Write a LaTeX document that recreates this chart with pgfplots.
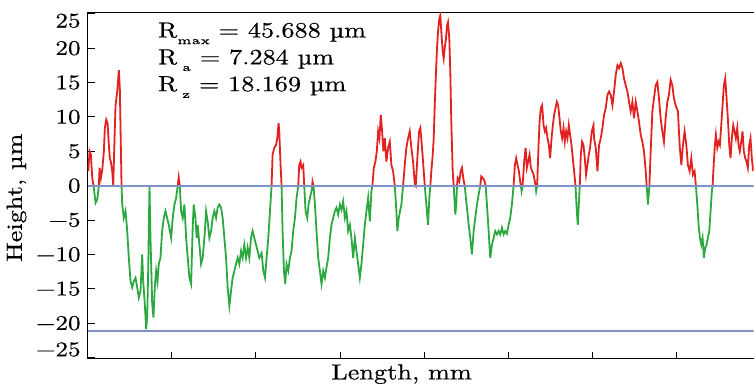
\documentclass[border=0pt]{standalone}
\usepackage{fontspec}
\setmainfont{Latin Modern Roman}[FakeStretch=1.2, FakeBold=0.5]
\usepackage{pgfplots}
\pgfplotsset{compat=1.18}
\usepackage{pgfplotstable}
\definecolor{profred}{RGB}{226,34,32}
\definecolor{profgreen}{RGB}{44,168,64}
\definecolor{reflblue}{RGB}{128,146,200}
\newcommand\sub[1]{\raisebox{-3.3bp}{\fontsize{5.5}{6}\selectfont #1}}
\pgfplotstableread{
x y
87.7 2.1
89.0 5.0
90.3 4.5
91.7 1.1
93.0 0
95.0 -2.5
96.7 -2.0
98.3 0
99.0 2.6
100.3 1.1
101.7 2.3
103.3 5.0
104.3 8.4
105.7 9.6
107.0 9.1
108.3 5.9
109.3 4.0
110.3 3.5
111.7 2.1
112.7 0
114.0 6.9
115.0 11.7
116.7 13.7
118.3 16.8
119.3 14.2
120.3 5.9
121.0 0
121.7 -2.75
123.3 -4.7
125.0 -3.7
126.7 -6.6
128.3 -10.5
130.0 -13.9
131.7 -14.8
133.3 -13.9
135.0 -13.4
136.7 -14.8
138.3 -16.3
140.0 -15.3
141.7 -10.0
142.7 -13.9
144.3 -17.2
145.7 -20.9
146.7 -19.0
147.7 -12.4
149.0 0
150.0 -7.6
151.7 -17.2
153.0 -19.2
154.3 -14.8
155.7 -12.4
157.0 -13.9
158.3 -11.4
160.0 -10.5
161.7 -6.6
163.3 -4.7
165.0 -3.7
166.7 -4.7
168.3 -5.7
170.7 -7.6
172.3 -4.7
174.0 -2.75
175.7 -1.8
177.3 0
178.3 1.2
179.3 0
180.7 -3.7
182.3 -4.7
184.0 -2.75
185.7 -7.6
187.3 -10.5
189.0 -13.4
190.7 -14.3
192.3 -6.0
193.3 -2.75
195.0 -4.7
196.3 -7.6
197.3 -5.7
199.0 -8.6
200.7 -11.4
202.3 -10.5
204.0 -7.6
205.7 -3.7
207.3 -5.2
209.0 -7.6
210.7 -6.6
212.3 -4.7
214.0 -3.7
215.7 -4.7
217.3 -3.2
219.0 -2.75
220.7 -3.2
222.3 -4.7
224.0 -7.6
225.7 -10.5
227.3 -14.8
229.0 -17.5
230.7 -15.3
232.3 -13.4
234.0 -12.4
235.7 -11.4
237.3 -10.5
239.0 -11.4
240.7 -9.5
242.3 -10.5
244.0 -8.6
245.7 -10.5
247.3 -9.0
249.0 -10.5
250.7 -7.6
252.3 -6.6
254.0 -7.6
255.7 -8.6
257.3 -9.5
259.0 -10.5
261.3 -9.8
263.0 -12.4
264.7 -13.4
266.3 -10.5
268.0 -7.6
269.7 -3.7
271.3 0
272.3 4.5
274.0 5.5
275.7 5.9
277.0 6.9
278.3 9.1
279.0 7.9
280.3 3.0
281.3 0
282.3 -6.6
283.7 -12.4
285.0 -14.3
286.3 -11.4
288.0 -12.4
289.7 -10.5
291.3 -9.5
293.0 -6.6
294.7 -4.7
296.3 -1.8
298.0 0
299.0 3.0
300.3 3.5
301.3 2.6
303.0 3.0
304.0 0
305.3 -3.7
307.0 -4.7
308.3 -2.75
309.7 -1.8
311.3 -0.8
312.0 0
312.3 0.6
313.3 0
314.7 -2.75
316.3 -6.6
318.0 -10.5
319.7 -12.4
321.3 -14.3
323.0 -12.4
324.7 -13.4
326.3 -11.9
328.0 -10.5
329.7 -7.6
331.3 -5.7
333.0 -4.7
334.7 -3.7
336.3 -3.2
338.0 -4.2
339.7 -2.75
341.3 -3.5
343.0 -2.3
344.7 -4.7
346.3 -3.7
348.0 -6.6
349.7 -5.7
351.3 -7.6
353.0 -10.5
354.7 -7.6
356.3 -9.5
358.0 -11.4
359.7 -13.4
361.3 -11.4
363.0 -8.6
364.7 -5.7
366.3 -3.7
368.0 -1.8
369.7 -5.2
371.3 -0.8
372.3 0
373.7 2.6
375.3 3.5
376.7 5.0
378.0 7.9
379.3 6.9
380.7 10.3
382.0 7.9
383.3 5.0
384.7 6.9
386.3 3.5
388.0 5.5
389.7 6.4
391.3 3.0
393.0 2.1
394.7 0
396.3 -3.7
397.3 -6.6
398.7 -4.7
400.0 -3.7
401.3 -2.75
403.0 0
404.7 3.0
406.3 5.5
408.0 6.9
409.7 7.9
411.3 5.5
413.0 3.5
414.7 0.3
415.7 0
417.3 4.0
419.0 7.9
420.3 8.4
422.0 5.5
423.7 2.1
424.7 0
426.3 -2.75
428.0 -5.7
429.3 -1.8
430.3 0
431.3 2.1
432.7 4.5
433.7 6.9
434.7 11.7
436.0 16.6
437.0 20.0
438.0 22.4
439.3 24.3
440.3 24.8
441.3 22.4
442.7 19.5
443.7 18.5
444.7 20.0
446.0 21.4
447.0 23.3
448.0 23.8
449.3 21.4
450.3 16.6
451.3 9.3
452.7 2.1
453.7 0
455.3 -4.2
456.3 -2.75
457.0 0
457.7 1.1
459.3 0.6
460.7 2.1
462.0 2.6
463.3 1.1
464.7 0
466.0 -1.8
467.3 -3.7
468.7 -5.7
470.3 -7.6
472.0 -10.0
473.7 -6.6
475.3 -4.7
477.0 -2.75
478.7 -1.3
480.3 0
481.3 1.35
483.0 1.1
484.7 0.6
485.7 0
487.0 -2.75
488.7 -6.6
490.3 -10.5
492.0 -8.6
493.7 -7.6
495.3 -6.6
497.0 -7.1
498.7 -6.6
500.3 -7.1
502.0 -6.1
503.7 -7.1
505.3 -6.6
507.0 -7.0
508.7 -5.7
510.3 -4.7
512.0 -2.75
513.7 0
515.0 3.0
516.3 4.0
517.7 3.0
519.0 2.1
520.3 0.6
521.0 0
521.7 -0.8
522.7 0
524.3 3.5
525.7 5.5
527.0 2.6
528.3 3.5
529.7 4.5
531.0 2.6
532.3 2.1
533.7 1.6
535.0 0.6
535.7 0
536.3 -0.8
537.3 0
538.7 5.9
539.7 9.3
541.0 11.3
542.3 11.7
543.7 8.8
545.0 7.9
546.3 8.4
547.7 6.9
549.0 5.9
550.3 4.0
551.7 6.9
553.0 8.8
554.3 10.3
555.7 11.3
557.0 12.2
558.3 11.7
559.7 9.8
561.0 7.9
562.3 6.9
563.7 8.4
565.0 6.4
566.3 7.9
567.7 6.9
569.0 8.8
570.3 7.4
571.7 5.9
573.0 4.0
574.3 2.1
575.7 0
577.0 -3.7
578.0 -5.7
579.0 -2.75
580.0 0
581.0 4.5
582.3 6.4
583.7 5.9
585.0 4.0
586.3 1.6
587.7 3.0
589.0 4.5
590.3 5.5
592.0 7.9
593.7 8.8
594.3 6.9
596.0 5.5
597.7 2.1
599.3 5.9
601.0 6.9
602.7 8.4
604.3 10.3
606.0 11.3
607.7 13.2
609.3 13.7
611.0 13.2
612.7 11.7
614.3 13.7
616.0 16.1
617.7 17.5
619.3 17.1
621.0 17.8
622.7 17.1
624.3 15.6
626.0 14.6
627.7 13.7
629.3 12.2
631.0 10.8
632.7 12.2
634.3 9.8
636.0 12.2
637.7 10.8
639.3 9.3
641.0 7.4
642.7 6.4
644.3 5.0
646.0 2.1
647.0 0
648.3 -2.75
649.7 0
651.0 5.0
652.7 10.8
654.3 12.7
656.0 14.6
657.7 15.1
659.3 12.7
661.0 9.8
662.7 7.9
664.3 6.4
666.0 9.8
667.7 12.2
669.3 13.2
671.0 15.4
672.7 14.6
674.3 12.7
676.0 11.7
678.3 10.8
680.0 5.9
681.7 3.0
683.3 5.9
685.0 7.9
686.7 5.9
688.3 3.0
690.0 2.1
691.7 4.0
693.3 1.6
695.0 2.1
696.3 0
697.7 -2.75
699.0 -5.7
700.3 -7.6
701.7 -8.6
703.0 -7.6
704.3 -10.5
705.7 -9.0
707.0 -8.6
708.3 -7.6
709.7 -6.6
711.0 -3.7
712.3 -0.8
713.0 0
714.3 3.5
715.3 5.9
716.3 7.4
717.7 5.5
719.0 6.4
720.3 5.9
721.7 8.8
723.0 11.7
724.3 14.6
725.7 15.6
727.0 12.7
728.3 9.8
729.7 5.9
731.0 4.0
732.3 6.9
733.7 8.8
735.0 7.9
736.3 6.9
737.7 8.4
739.0 5.9
740.3 5.0
741.7 6.4
743.0 7.9
744.3 5.0
745.7 4.0
747.0 3.5
748.3 2.6
749.7 5.9
751.0 6.9
752.3 4.0
753.7 2.1
}\profile
\begin{document}
\begin{tikzpicture}
\begin{axis}[
  scale only axis, width=333.5bp, height=173.5bp,
  xmin=87, xmax=754, ymin=-25.2, ymax=25.2,
  axis x line=box, axis y line=left,
  axis line style={-, black, line width=0.5bp},
  xtick={171.3,255.6,340,424.3,508.6,593,677.2}, xticklabels={},
  xtick pos=bottom,
  ytick={-25,-20,...,25},
  yticklabel={\pgfmathtruncatemacro{\tv}{round(\tick)}%
    \ifnum\tv<0 \def\lab{−\number-\tv}\else\def\lab{\number\tv}\fi
    \ifnum\tv=25 \raisebox{-3.5bp}[\height][\depth]{\lab}%
    \else\ifnum\tv=-25 \raisebox{4bp}[\height][\depth]{\lab}%
    \else \lab\fi\fi},
  tick align=inside, major tick length=3.5bp,
  tick style={black, line width=0.5bp},
  tick label style={font=\fontsize{10.5}{12}\selectfont},
  label style={font=\fontsize{11}{13}\selectfont},
  ylabel={Height, µm},
  ylabel style={at={(ticklabel cs:0.465,-2bp)}},
  xlabel={Length, mm},
  xlabel style={at={(axis description cs:0.4715,0)}, anchor=north, inner sep=0pt, yshift=-2.5bp},
]
\addplot[profred, line width=0.9bp, mark=none, restrict y to domain=0:30, unbounded coords=jump] table[x=x,y=y]{\profile};
\addplot[profgreen, line width=0.9bp, mark=none, restrict y to domain=-30:0, unbounded coords=jump] table[x=x,y=y]{\profile};
\addplot[reflblue, line width=1bp, mark=none] coordinates {(87,0) (754,0)};
\addplot[reflblue, line width=1bp, mark=none] coordinates {(87,-21.1) (754,-21.1)};
\node[anchor=north west, inner sep=0pt, align=left, font=\fontsize{11}{13.5}\selectfont]
  at (rel axis cs:0.105,0.972)
  {R\sub{max} = 45.688 µm\\ R\hspace{2.5bp}\sub{a} = 7.284 µm\\ R\hspace{2.5bp}\sub{z} = 18.169 µm};
\end{axis}
\end{tikzpicture}
\end{document}
